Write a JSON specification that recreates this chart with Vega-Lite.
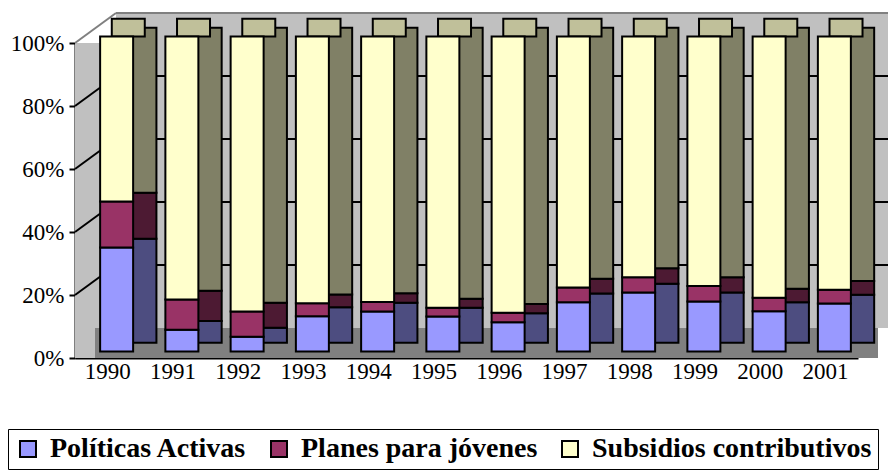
{
  "$schema": "https://vega.github.io/schema/vega-lite/v6.json",
  "width": 783,
  "height": 315,
  "autosize": {"type": "none"},
  "padding": {"left": 75, "top": 43, "right": 30, "bottom": 112},
  "background": "white",
  "config": {
    "view": {"stroke": null},
    "font": "Liberation Serif",
    "axis": {"zindex": 1}
  },
  "datasets": {
    "shares": [
      {"year": "1990", "serie": "Políticas Activas", "k": 1, "value": 33.0},
      {"year": "1990", "serie": "Planes para jóvenes", "k": 2, "value": 14.6},
      {"year": "1990", "serie": "Subsidios contributivos", "k": 3, "value": 52.4},
      {"year": "1991", "serie": "Políticas Activas", "k": 1, "value": 6.9},
      {"year": "1991", "serie": "Planes para jóvenes", "k": 2, "value": 9.6},
      {"year": "1991", "serie": "Subsidios contributivos", "k": 3, "value": 83.5},
      {"year": "1992", "serie": "Políticas Activas", "k": 1, "value": 4.7},
      {"year": "1992", "serie": "Planes para jóvenes", "k": 2, "value": 8.0},
      {"year": "1992", "serie": "Subsidios contributivos", "k": 3, "value": 87.3},
      {"year": "1993", "serie": "Políticas Activas", "k": 1, "value": 11.2},
      {"year": "1993", "serie": "Planes para jóvenes", "k": 2, "value": 4.1},
      {"year": "1993", "serie": "Subsidios contributivos", "k": 3, "value": 84.7},
      {"year": "1994", "serie": "Políticas Activas", "k": 1, "value": 12.7},
      {"year": "1994", "serie": "Planes para jóvenes", "k": 2, "value": 3.0},
      {"year": "1994", "serie": "Subsidios contributivos", "k": 3, "value": 84.3},
      {"year": "1995", "serie": "Políticas Activas", "k": 1, "value": 11.1},
      {"year": "1995", "serie": "Planes para jóvenes", "k": 2, "value": 2.8},
      {"year": "1995", "serie": "Subsidios contributivos", "k": 3, "value": 86.1},
      {"year": "1996", "serie": "Políticas Activas", "k": 1, "value": 9.3},
      {"year": "1996", "serie": "Planes para jóvenes", "k": 2, "value": 3.0},
      {"year": "1996", "serie": "Subsidios contributivos", "k": 3, "value": 87.7},
      {"year": "1997", "serie": "Políticas Activas", "k": 1, "value": 15.6},
      {"year": "1997", "serie": "Planes para jóvenes", "k": 2, "value": 4.7},
      {"year": "1997", "serie": "Subsidios contributivos", "k": 3, "value": 79.7},
      {"year": "1998", "serie": "Políticas Activas", "k": 1, "value": 18.7},
      {"year": "1998", "serie": "Planes para jóvenes", "k": 2, "value": 4.9},
      {"year": "1998", "serie": "Subsidios contributivos", "k": 3, "value": 76.4},
      {"year": "1999", "serie": "Políticas Activas", "k": 1, "value": 15.9},
      {"year": "1999", "serie": "Planes para jóvenes", "k": 2, "value": 4.9},
      {"year": "1999", "serie": "Subsidios contributivos", "k": 3, "value": 79.2},
      {"year": "2000", "serie": "Políticas Activas", "k": 1, "value": 12.8},
      {"year": "2000", "serie": "Planes para jóvenes", "k": 2, "value": 4.3},
      {"year": "2000", "serie": "Subsidios contributivos", "k": 3, "value": 82.9},
      {"year": "2001", "serie": "Políticas Activas", "k": 1, "value": 15.2},
      {"year": "2001", "serie": "Planes para jóvenes", "k": 2, "value": 4.4},
      {"year": "2001", "serie": "Subsidios contributivos", "k": 3, "value": 80.4}
    ],
    "grid": [{"v": 0.2}, {"v": 0.4}, {"v": 0.6}, {"v": 0.8}],
    "one": [{"id": 1}]
  },
  "data": {"name": "shares"},
  "layer": [
    {
      "data": {"name": "one"},
      "mark": {"type": "rect", "fill": "#C0C0C0"},
      "encoding": {
        "x": {"value": 0},
        "x2": {"value": "width"},
        "y": {"datum": 0, "type": "quantitative", "scale": {"domain": [0, 1]}, "axis": {"title": null, "format": ".0%", "values": [0, 0.2, 0.4, 0.6, 0.8, 1], "labelFontSize": 23, "labelFont": "Liberation Serif", "labelColor": "black", "domainColor": "black", "domainWidth": 2, "tickColor": "black", "tickWidth": 2, "tickSize": 6, "labelPadding": 5, "grid": false}},
        "y2": {"datum": 1}
      }
    },
    {
      "data": {"name": "one"},
      "mark": {"type": "rect", "fill": "#C0C0C0", "xOffset": 41, "x2Offset": 41, "yOffset": -30, "y2Offset": -30},
      "encoding": {
        "x": {"value": 0},
        "x2": {"value": "width"},
        "y": {"datum": 0, "type": "quantitative"},
        "y2": {"datum": 1}
      }
    },
    {
      "data": {"name": "one"},
      "mark": {"type": "rect", "fill": "#808080", "xOffset": 20, "x2Offset": 20, "y2Offset": -30},
      "encoding": {
        "x": {"value": 0},
        "x2": {"value": "width"},
        "y": {"datum": 0, "type": "quantitative"},
        "y2": {"datum": 0}
      }
    },
    {
      "data": {"name": "one"},
      "mark": {"type": "rule", "stroke": "#808080", "strokeWidth": 2, "xOffset": 41, "x2Offset": 41, "yOffset": -30},
      "encoding": {
        "x": {"value": 0},
        "x2": {"value": "width"},
        "y": {"datum": 1, "type": "quantitative"}
      }
    },
    {
      "data": {"name": "one"},
      "mark": {"type": "rule", "stroke": "#808080", "strokeWidth": 2, "x2Offset": 41, "y2Offset": -30},
      "encoding": {
        "x": {"value": 0},
        "x2": {"value": 0},
        "y": {"datum": 1, "type": "quantitative"},
        "y2": {"datum": 1}
      }
    },
    {
      "data": {"name": "grid"},
      "mark": {"type": "rule", "stroke": "black", "strokeWidth": 2, "xOffset": 41, "x2Offset": 41, "yOffset": -30},
      "encoding": {
        "x": {"value": 0},
        "x2": {"value": "width"},
        "y": {"field": "v", "type": "quantitative"}
      }
    },
    {
      "data": {"name": "grid"},
      "mark": {"type": "rule", "stroke": "black", "strokeWidth": 2, "x2Offset": 41, "y2Offset": -30},
      "encoding": {
        "x": {"value": 0},
        "x2": {"value": 0},
        "y": {"field": "v", "type": "quantitative"},
        "y2": {"field": "v"}
      }
    },
    {
      "mark": {"type": "bar", "width": 33, "stroke": "black", "strokeWidth": 2, "xOffset": 32.3, "yOffset": -15.35, "y2Offset": -15.35},
      "encoding": {
        "x": {"field": "year", "type": "nominal", "scale": {"paddingInner": 0, "paddingOuter": 0}},
        "y": {"field": "value", "type": "quantitative", "stack": "normalize"},
        "order": {"field": "k", "type": "quantitative"},
        "fill": {"field": "serie", "type": "nominal", "scale": {"domain": ["Subsidios contributivos", "Planes para jóvenes", "Políticas Activas"], "range": ["#808066", "#4D1A33", "#4D4D80"]}, "legend": null}
      }
    },
    {
      "transform": [{"filter": "datum.k == 3"}],
      "mark": {"type": "bar", "width": 33, "fill": "#C0C09A", "stroke": "black", "strokeWidth": 2, "xOffset": 20.65, "yOffset": -6.5, "y2Offset": -24.2},
      "encoding": {
        "x": {"field": "year", "type": "nominal"},
        "y": {"datum": 1, "type": "quantitative"},
        "y2": {"datum": 1}
      }
    },
    {
      "mark": {"type": "bar", "width": 33, "stroke": "black", "strokeWidth": 2, "xOffset": 9, "yOffset": -6.5, "y2Offset": -6.5},
      "encoding": {
        "x": {"field": "year", "type": "nominal", "scale": {"paddingInner": 0, "paddingOuter": 0}, "axis": {"title": null, "labelAngle": 0, "labelAlign": "center", "labelFontSize": 23, "labelFont": "Liberation Serif", "labelColor": "black", "domainColor": "black", "domainWidth": 2, "ticks": false, "labelPadding": 13, "grid": false}},
        "y": {"field": "value", "type": "quantitative", "stack": "normalize"},
        "order": {"field": "k", "type": "quantitative"},
        "color": {"field": "serie", "type": "nominal", "scale": {"domain": ["Políticas Activas", "Planes para jóvenes", "Subsidios contributivos"], "range": ["#9999FF", "#993366", "#FFFFCC"]}, "legend": {"orient": "none", "legendX": -67, "legendY": 386, "direction": "horizontal", "title": null, "strokeColor": "black", "padding": 6, "fillColor": "white", "symbolType": "square", "symbolSize": 256, "symbolStrokeColor": "black", "symbolStrokeWidth": 2, "symbolOpacity": 1, "labelFont": "Liberation Serif", "labelFontWeight": "bold", "labelFontSize": 28, "labelColor": "black", "labelLimit": 0, "columnPadding": 18, "labelOffset": 8}}
      }
    }
  ]
}
